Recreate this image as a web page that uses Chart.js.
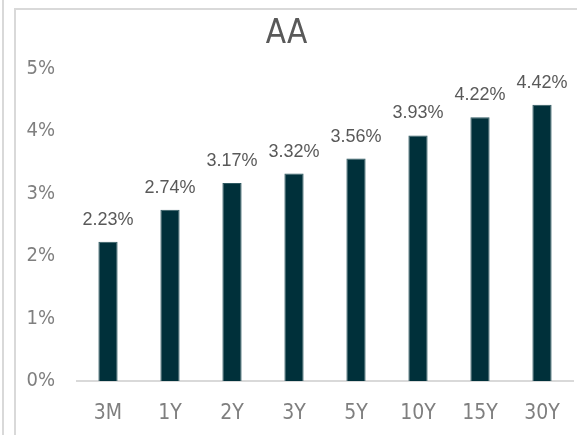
<!DOCTYPE html>
<html>
<head>
<meta charset="utf-8">
<script src="https://cdn.jsdelivr.net/npm/chart.js@4"></script>
<style>
  html, body { margin: 0; padding: 0; background: #fff; }
  #wrap { position: relative; width: 577px; height: 435px; overflow: hidden; }
  #chart { position: absolute; left: 0; top: 0; }
  .line-outer { position: absolute; left: 2px; top: 0; width: 2px; height: 435px; background: #d9d9d9; }
  .box { position: absolute; left: 14px; top: 8px; width: 600px; height: 500px;
         border-left: 2px solid #d9d9d9; border-top: 2px solid #d9d9d9; }
</style>
</head>
<body>
<div id="wrap">
  <canvas id="chart" width="577" height="435"></canvas>
  <div class="line-outer"></div>
  <div class="box"></div>
</div>
<script>
const categories = ["3M", "1Y", "2Y", "3Y", "5Y", "10Y", "15Y", "30Y"];
const yields = [2.23, 2.74, 3.17, 3.32, 3.56, 3.93, 4.22, 4.42];
const yTicks = [0, 1, 2, 3, 4, 5];

const narrow = "'Liberation Sans Narrow', 'DejaVu Sans Condensed', Roboto, sans-serif";

// подписи над столбцами
const barLabels = {
  id: "barLabels",
  afterDatasetsDraw(chart) {
    const ctx = chart.ctx;
    const meta = chart.getDatasetMeta(0);
    ctx.save();
    ctx.font = "18px 'Liberation Sans', Arial, sans-serif";
    ctx.fillStyle = "#595959";
    ctx.textAlign = "center";
    ctx.textBaseline = "middle";
    meta.data.forEach((bar, i) => {
      ctx.fillText(yields[i].toFixed(2) + "%", bar.x, bar.y - 22);
    });
    ctx.restore();
  },
};

new Chart(document.getElementById("chart").getContext("2d"), {
  type: "bar",
  data: {
    labels: categories,
    datasets: [
      {
        data: yields,
        backgroundColor: "#00303a",
        borderColor: "#2f5a62",
        borderWidth: 1,
        barPercentage: 0.62,
        categoryPercentage: 0.5,
      },
    ],
  },
  options: {
    responsive: false,
    animation: false,
    layout: { padding: { left: 0, right: 4, top: 0, bottom: 0 } },
    plugins: {
      legend: { display: false },
      tooltip: { enabled: false },
      title: {
        display: true,
        text: "AA",
        color: "#595959",
        font: { family: narrow, size: 33, weight: "normal" },
        padding: { top: 15, bottom: 14 },
      },
    },
    scales: {
      x: {
        grid: { display: false },
        border: { display: true, color: "#d9d9d9", width: 2 },
        ticks: {
          color: "#7f7f7f",
          font: { family: narrow, size: 21 },
          padding: 12,
          maxRotation: 0,
        },
        afterFit(scale) { scale.height = 54; },
      },
      y: {
        min: 0,
        max: 5,
        grid: { display: false },
        border: { display: false },
        afterBuildTicks(scale) { scale.ticks = yTicks.map(v => ({ value: v })); },
        ticks: {
          color: "#7f7f7f",
          font: { family: narrow, size: 20 },
          padding: 14,
          callback: v => v + "%",
        },
        afterFit(scale) { scale.width = 77; },
      },
    },
  },
  plugins: [barLabels],
});
</script>
</body>
</html>
